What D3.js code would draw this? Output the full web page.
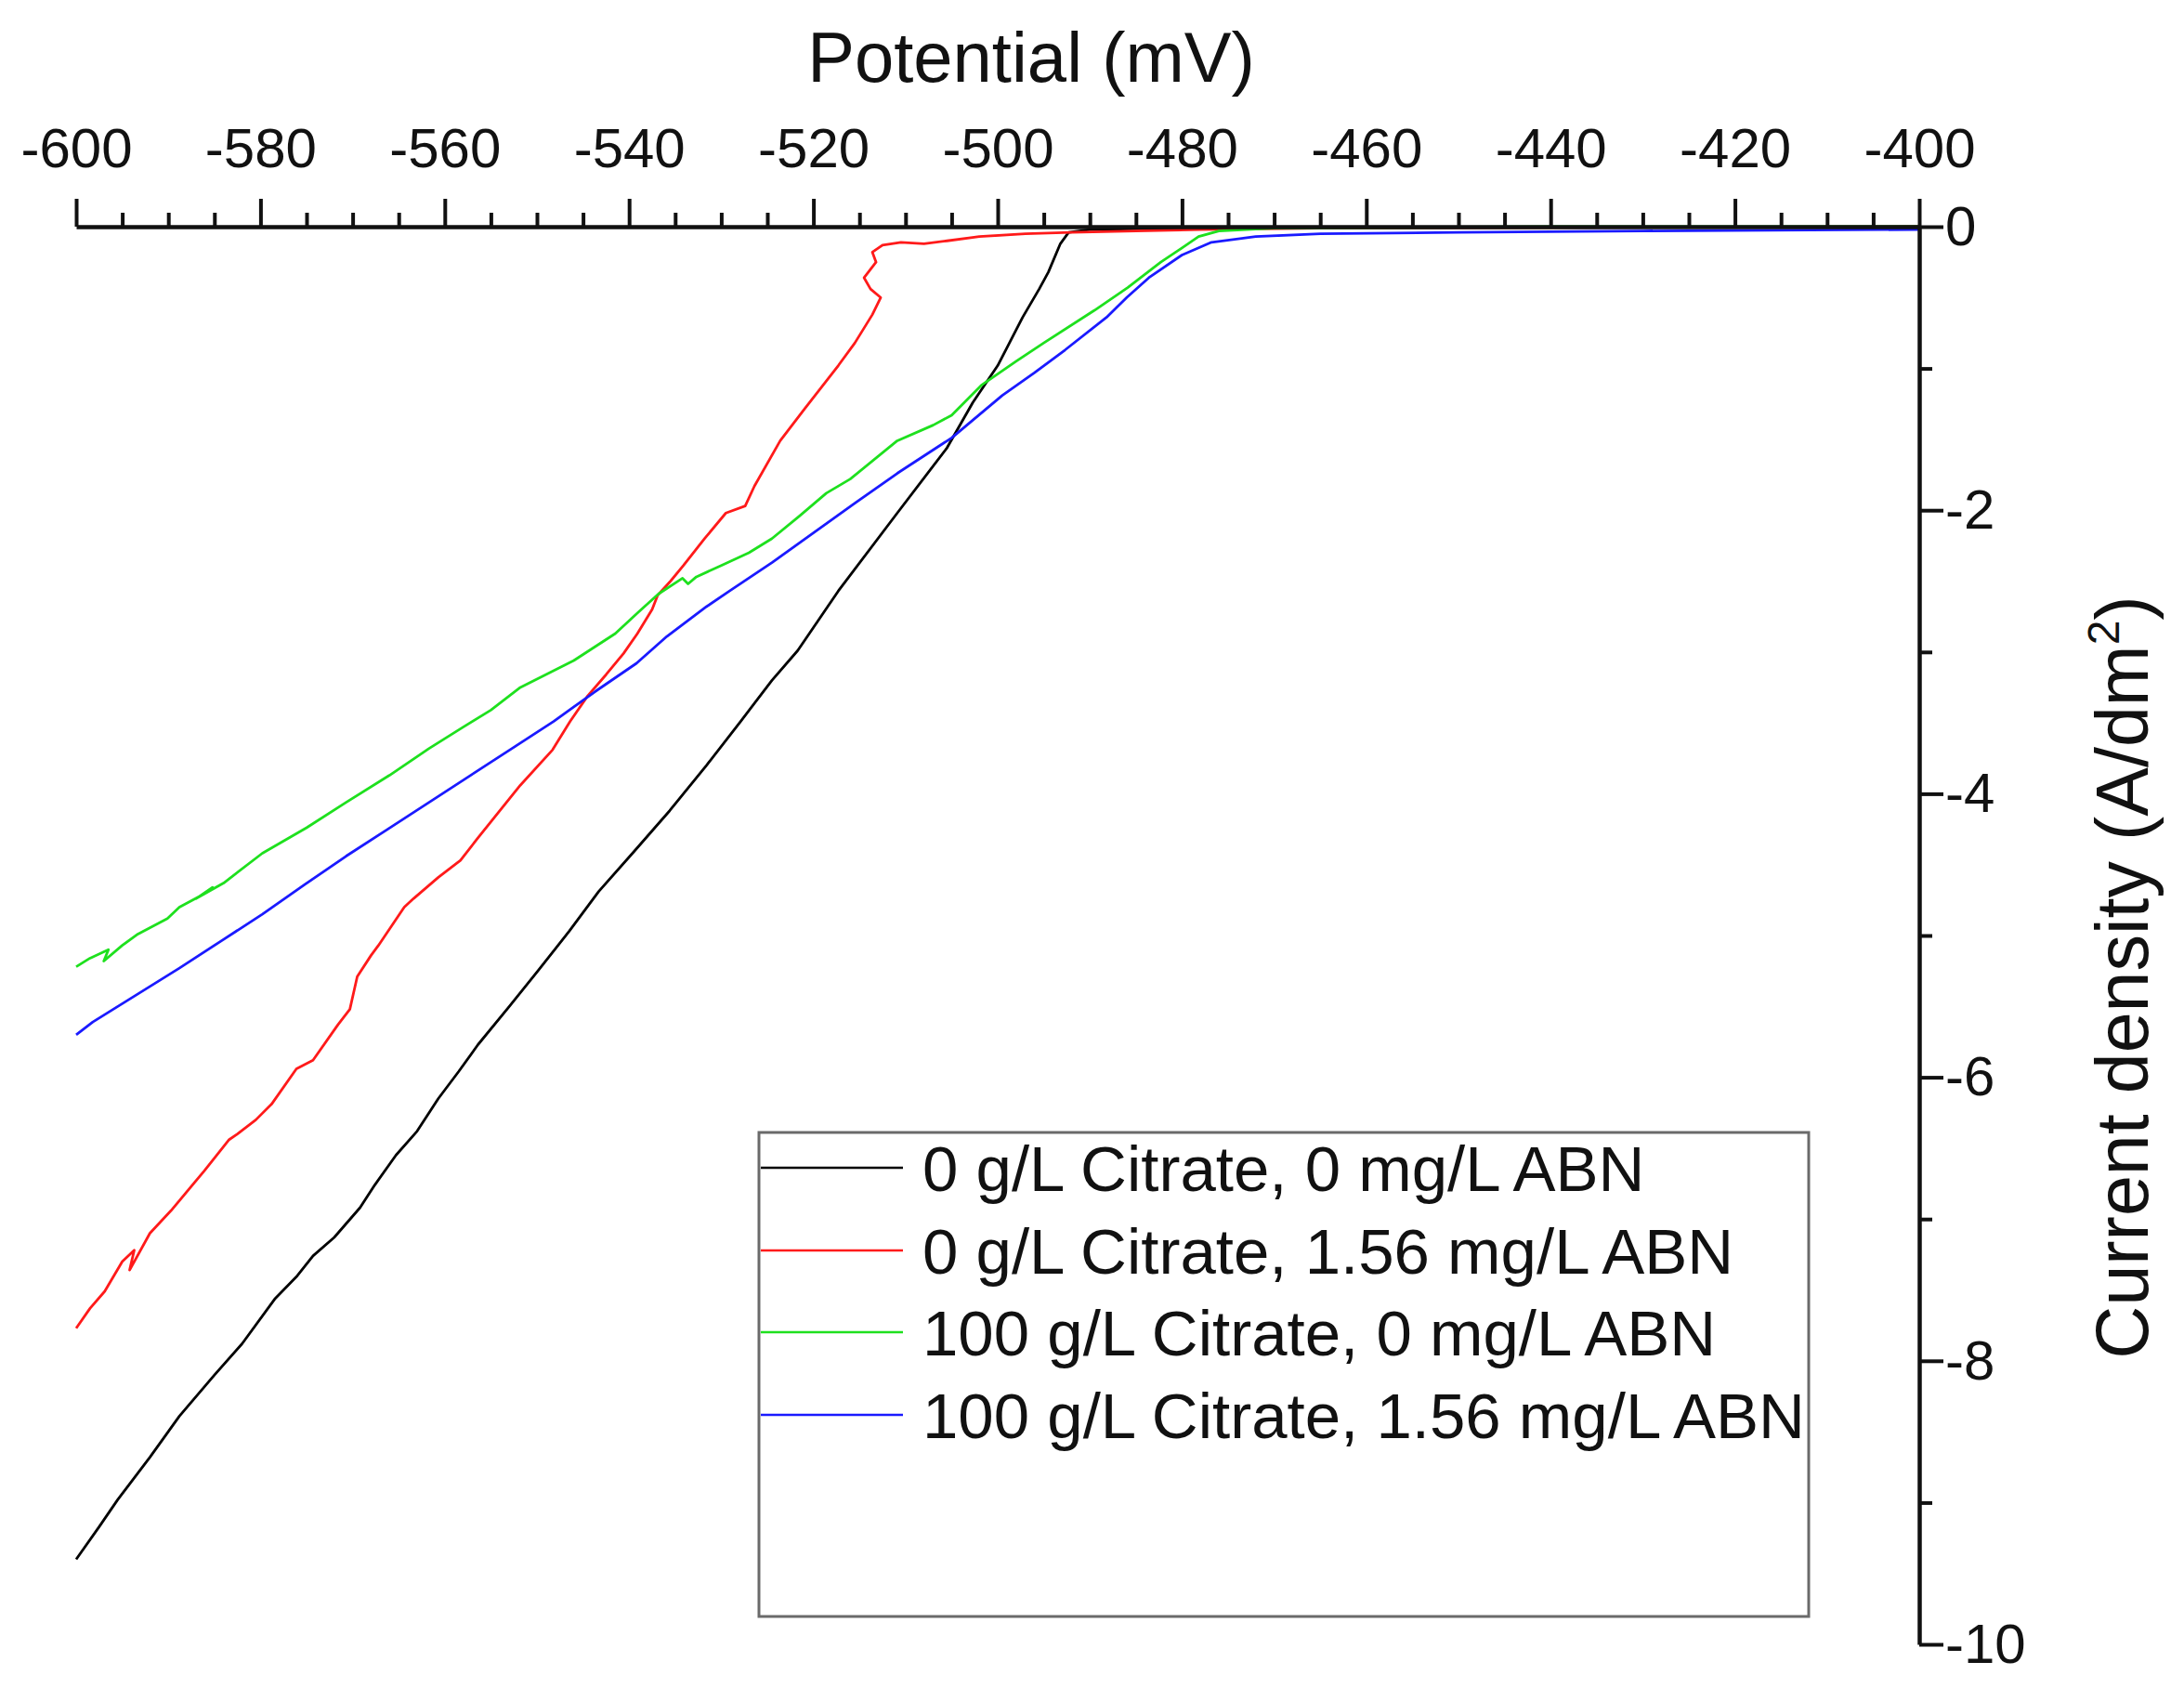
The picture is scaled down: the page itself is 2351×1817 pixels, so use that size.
<!DOCTYPE html>
<html>
<head>
<meta charset="utf-8">
<script src="https://cdn.jsdelivr.net/npm/d3@7"></script>
<style>
  html, body { margin: 0; padding: 0; background: #fff; }
  svg { display: block; }
  text { font-family: "Liberation Sans", Arial, sans-serif; fill: #111; }
</style>
</head>
<body>
<svg id="chart" width="2351" height="1817"></svg>
<script>
// ---------------- data ----------------
const seriesNames = [
  "0 g/L Citrate, 0 mg/L ABN",
  "0 g/L Citrate, 1.56 mg/L ABN",
  "100 g/L Citrate, 0 mg/L ABN",
  "100 g/L Citrate, 1.56 mg/L ABN"
];
const seriesColors = ["#000000", "#ff1a1a", "#1ee01e", "#1a1aff"];

// [potential mV, current density A/dm2]
const black = [
  [-600, -9.40], [-597.5, -9.17], [-595.5, -8.98], [-592, -8.68], [-588.8, -8.39],
  [-585, -8.10], [-582, -7.88], [-578.4, -7.56], [-576, -7.40], [-574.3, -7.26],
  [-572, -7.13], [-569.2, -6.92], [-567.6, -6.76], [-565.3, -6.55], [-563, -6.38],
  [-560.7, -6.15], [-558.5, -5.96], [-556.4, -5.77], [-553, -5.50], [-549.9, -5.25],
  [-546.5, -4.97], [-543.3, -4.69], [-539.5, -4.41], [-535.6, -4.12], [-531.6, -3.80],
  [-527.9, -3.49], [-524.5, -3.20], [-521.7, -2.99], [-517.3, -2.57], [-510.9, -2.02],
  [-505.5, -1.56], [-502.7, -1.24], [-500, -0.98], [-497.3, -0.64], [-495.5, -0.44],
  [-494.5, -0.32], [-493.2, -0.12], [-492.3, -0.04], [-490, -0.02], [-480, -0.01],
  [-440, -0.005], [-400, 0]
];
const red = [
  [-600, -7.77], [-598.5, -7.63], [-596.9, -7.51], [-595, -7.30], [-593.7, -7.22],
  [-594.2, -7.36], [-592, -7.10], [-589.7, -6.94], [-586.1, -6.66], [-583.4, -6.44],
  [-582.5, -6.40], [-580.5, -6.30], [-578.8, -6.19], [-576.1, -5.94], [-574.3, -5.88],
  [-571.6, -5.63], [-570.3, -5.52], [-569.5, -5.29], [-568, -5.14], [-567.2, -5.07],
  [-564.4, -4.80], [-563.4, -4.74], [-560.7, -4.59], [-558.3, -4.47], [-556.5, -4.32],
  [-554.9, -4.19], [-551.8, -3.94], [-548.3, -3.69], [-546.4, -3.49], [-544.5, -3.31],
  [-542.5, -3.16], [-540.6, -3.01], [-539.1, -2.87], [-537.5, -2.70], [-536.9, -2.60],
  [-535.5, -2.50], [-534.1, -2.39], [-531.8, -2.20], [-529.5, -2.02], [-527.4, -1.97],
  [-526.4, -1.83], [-523.6, -1.51], [-520.9, -1.28], [-517.3, -0.98], [-515.5, -0.82],
  [-513.6, -0.62], [-512.7, -0.50], [-513.8, -0.44], [-514.5, -0.36], [-513.2, -0.25],
  [-513.6, -0.18], [-512.5, -0.13], [-510.5, -0.11], [-508, -0.12], [-505.5, -0.10],
  [-502, -0.07], [-497, -0.05], [-492, -0.04], [-485, -0.03], [-478, -0.02],
  [-465, -0.01], [-440, -0.005], [-400, 0]
];
const green = [
  [-600, -5.22], [-598.5, -5.16], [-596.5, -5.10], [-597, -5.18], [-595, -5.07],
  [-593.3, -4.99], [-590.1, -4.88], [-588.8, -4.80], [-586.5, -4.72], [-585.2, -4.66],
  [-587, -4.74], [-584, -4.63], [-579.8, -4.42], [-575, -4.24], [-570.7, -4.06],
  [-566, -3.87], [-561.7, -3.68], [-558, -3.53], [-555, -3.41], [-551.8, -3.25],
  [-546, -3.06], [-541.5, -2.87], [-539, -2.72], [-536.8, -2.59], [-534.2, -2.48],
  [-533.6, -2.52], [-532.7, -2.47], [-530, -2.39], [-527, -2.30], [-524.5, -2.20],
  [-521.5, -2.04], [-518.6, -1.88], [-516, -1.78], [-510.9, -1.51], [-507, -1.40],
  [-505, -1.33], [-501.8, -1.12], [-498, -0.95], [-495, -0.82], [-489.5, -0.59],
  [-485.9, -0.43], [-482.3, -0.25], [-480, -0.15], [-478.2, -0.07], [-476, -0.03],
  [-470, -0.01], [-440, 0], [-400, 0]
];
const blue = [
  [-600, -5.70], [-598.2, -5.61], [-593.5, -5.42], [-588.8, -5.23], [-584.3, -5.04],
  [-579.8, -4.85], [-575.2, -4.64], [-570.7, -4.44], [-566.2, -4.25], [-561.7, -4.06],
  [-557.2, -3.87], [-552.7, -3.68], [-548.2, -3.49], [-543.7, -3.28], [-539.2, -3.08],
  [-535.9, -2.89], [-531.6, -2.68], [-529.1, -2.57], [-524.5, -2.37], [-520, -2.16],
  [-515.5, -1.95], [-510.9, -1.74], [-505, -1.49], [-499.5, -1.19], [-496, -1.03],
  [-492.7, -0.87], [-488.2, -0.64], [-486, -0.50], [-483.6, -0.36], [-480, -0.20],
  [-476.8, -0.11], [-472, -0.07], [-465, -0.05], [-450, -0.04], [-430, -0.03],
  [-400, -0.02]
];
const seriesData = [black, red, green, blue];

const xMajorTicks = [-600, -580, -560, -540, -520, -500, -480, -460, -440, -420, -400];
const xMinorTicks = d3.range(-595, -400, 5).filter(v => v % 20 !== 0);
const yMajorTicks = [0, -2, -4, -6, -8, -10];
const yMinorTicks = [-1, -3, -5, -7, -9];

const xTitle = "Potential (mV)";

// ---------------- layout ----------------
const svg = d3.select("#chart");
const x = d3.scaleLinear().domain([-600, -400]).range([82, 2066]);
const y = d3.scaleLinear().domain([0, -10]).range([244, 1770]);

// data lines
const line = d3.line().x(d => x(d[0])).y(d => y(d[1]));
const plot = svg.append("g");
seriesData.forEach((s, i) => {
  plot.append("path")
    .datum(s)
    .attr("fill", "none")
    .attr("stroke", seriesColors[i])
    .attr("stroke-width", 2.8)
    .attr("stroke-linejoin", "round")
    .attr("d", line);
});

// x axis (top)
const xAxisG = svg.append("g").attr("transform", `translate(0,${y(0)})`);
xAxisG.call(d3.axisTop(x).tickValues(xMajorTicks).tickSize(30).tickSizeOuter(0)
  .tickPadding(34).tickFormat(d => String(d)));
xAxisG.append("g").call(d3.axisTop(x).tickValues(xMinorTicks).tickSize(15).tickSizeOuter(0).tickFormat(""))
  .select(".domain").remove();
xAxisG.selectAll(".domain").attr("stroke", "#111").attr("stroke-width", 4.5);
xAxisG.selectAll(".tick line").attr("stroke", "#111").attr("stroke-width", 4);
xAxisG.selectAll(".tick text").attr("font-size", 60).attr("font-family", "Liberation Sans, Arial, sans-serif").attr("fill", "#111");

// y axis (right)
const yAxisG = svg.append("g").attr("transform", `translate(${x(-400)},0)`);
yAxisG.call(d3.axisRight(y).tickValues(yMajorTicks).tickSize(26).tickSizeOuter(0)
  .tickPadding(2).tickFormat(d => String(d)));
yAxisG.append("g").call(d3.axisRight(y).tickValues(yMinorTicks).tickSize(14).tickSizeOuter(0).tickFormat(""))
  .select(".domain").remove();
yAxisG.selectAll(".domain").attr("stroke", "#111").attr("stroke-width", 4.5);
yAxisG.selectAll(".tick line").attr("stroke", "#111").attr("stroke-width", 4);
yAxisG.selectAll(".tick text").attr("font-size", 60).attr("font-family", "Liberation Sans, Arial, sans-serif").attr("fill", "#111");

// titles
svg.append("text")
  .attr("x", 1110).attr("y", 88)
  .attr("text-anchor", "middle")
  .attr("font-size", 76)
  .text(xTitle);

const yTitle = svg.append("text")
  .attr("transform", "translate(2312,1052) rotate(-90)")
  .attr("text-anchor", "middle")
  .attr("font-size", 79);
yTitle.append("tspan").text("Current density (A/dm");
yTitle.append("tspan").attr("font-size", 48).attr("dy", -31).text("2");
yTitle.append("tspan").attr("dy", 31).text(")");

// legend
const legend = svg.append("g");
legend.append("rect")
  .attr("x", 817).attr("y", 1219).attr("width", 1130).attr("height", 521)
  .attr("fill", "#fff").attr("stroke", "#6a6a6a").attr("stroke-width", 3);
const legendRows = [1257, 1346, 1434, 1523];
seriesNames.forEach((name, i) => {
  legend.append("line")
    .attr("x1", 819).attr("x2", 972)
    .attr("y1", legendRows[i]).attr("y2", legendRows[i])
    .attr("stroke", seriesColors[i]).attr("stroke-width", 2.6);
  legend.append("text")
    .attr("x", 993).attr("y", legendRows[i] + 25)
    .attr("font-size", 69)
    .text(name);
});
</script>
</body>
</html>
